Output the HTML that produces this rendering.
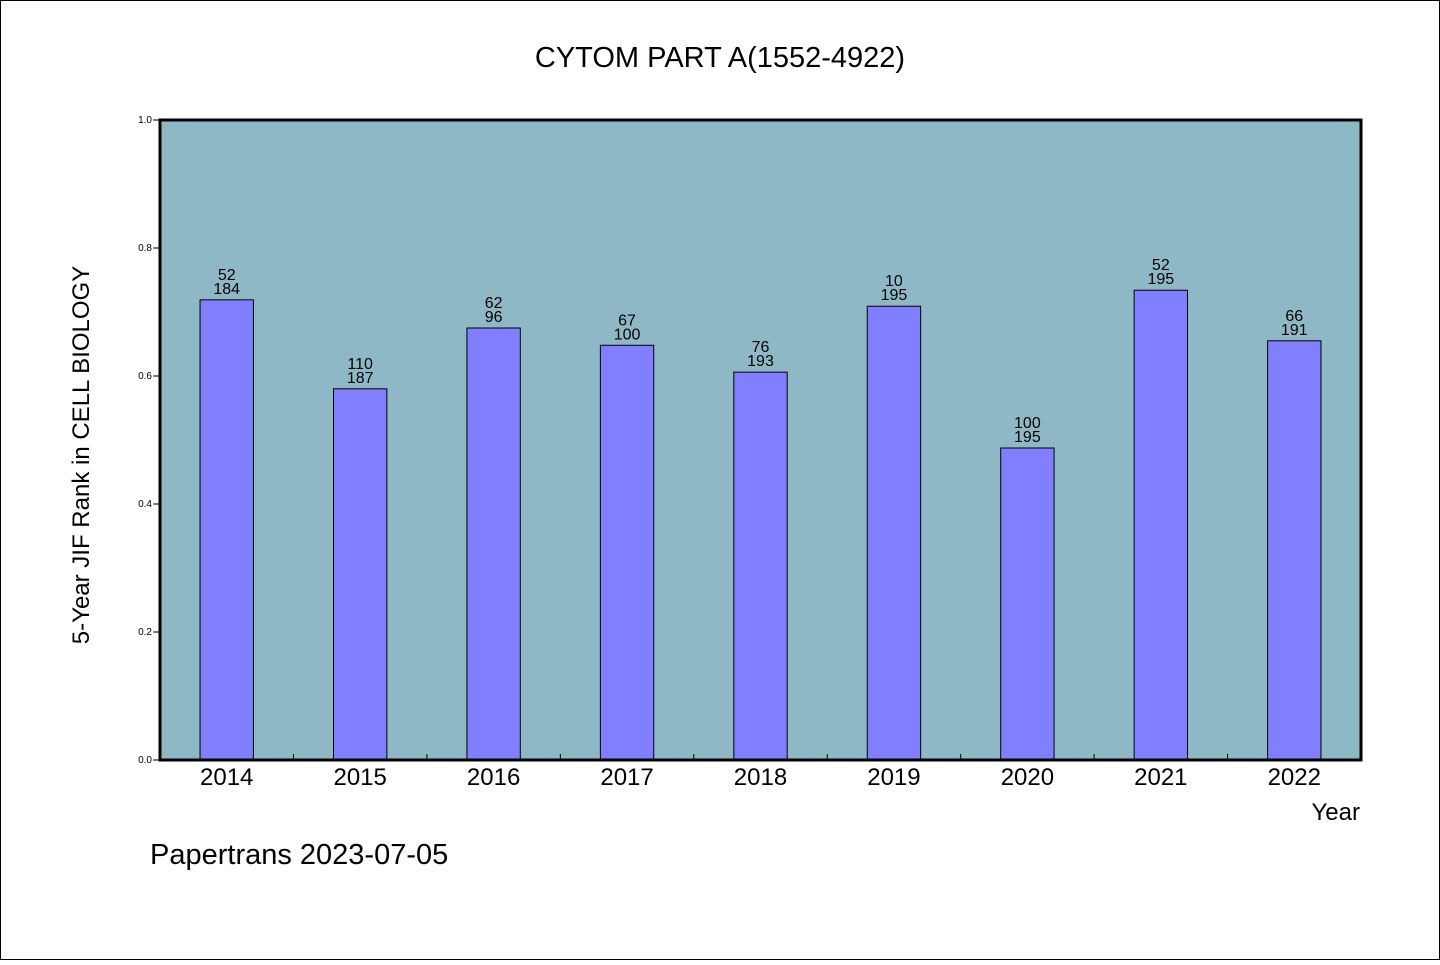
<!DOCTYPE html>
<html><head><meta charset="utf-8"><style>
body{margin:0;background:#fff}
svg text{font-family:"WenQuanYi Zen Hei","Liberation Sans",sans-serif;fill:#000}
</style></head><body>
<svg width="1440" height="960" xmlns="http://www.w3.org/2000/svg">
<rect x="0.5" y="0.5" width="1439" height="959" fill="#fff" stroke="#000"/>
<text x="720" y="67" font-size="29" text-anchor="middle">CYTOM PART A(1552-4922)</text>
<rect x="160" y="120" width="1201" height="640" fill="#8fb8c7"/>
<g id="bars"></g>
<g id="axes"></g>
<rect x="160" y="120" width="1201" height="640" fill="none" stroke="#000" stroke-width="3"/>
<text x="1360" y="820" font-size="24" text-anchor="end">Year</text>
<text transform="translate(89,455) rotate(-90)" font-size="24" text-anchor="middle">5-Year JIF Rank in CELL BIOLOGY</text>
<text x="150" y="864" font-size="29">Papertrans 2023-07-05</text>
</svg>
<script>
const categories=["2014","2015","2016","2017","2018","2019","2020","2021","2022"];
const values=[0.719,0.580,0.675,0.648,0.606,0.709,0.4875,0.734,0.655];
const ranks=["52","110","62","67","76","10","100","52","66"];
const totals=["184","187","96","100","193","195","195","195","191"];
const yTicks=[0,0.2,0.4,0.6,0.8,1.0];
const ns="http://www.w3.org/2000/svg";
const L=160,R=1361,T=120,B=760;
const band=(R-L)/categories.length;
const xC=i=>L+band*(i+0.5);
const y=v=>B-(v/1.0)*(B-T);
const bars=document.getElementById('bars'),axes=document.getElementById('axes');
function mk(tag,attrs,p){const e=document.createElementNS(ns,tag);for(const k in attrs)e.setAttribute(k,attrs[k]);p.appendChild(e);return e;}
categories.forEach((c,i)=>{
  const w=band*0.4,v=values[i];
  const r=mk('rect',{x:xC(i)-w/2,y:y(v),width:w,height:B-y(v),fill:'#7f7fff',stroke:'#000','stroke-width':1},bars);
  
  
  const t1=mk('text',{x:xC(i),y:y(v)-20,'font-size':16,'text-anchor':'middle'},bars);t1.textContent=ranks[i];
  
  
  const t2=mk('text',{x:xC(i),y:y(v)-6,'font-size':16,'text-anchor':'middle'},bars);t2.textContent=totals[i];
  
  
  const xl=mk('text',{x:xC(i),y:785,'font-size':24,'text-anchor':'middle'},axes);xl.textContent=c;
  
  
  if(i>0){const tk=mk('line',{x1:L+band*i,x2:L+band*i,y1:B,y2:B-6,stroke:'#000','stroke-width':1},axes);
  
  }
});
yTicks.forEach(v=>{
  const tk=mk('line',{x1:L-7,x2:L,y1:y(v),y2:y(v),stroke:'#000','stroke-width':1},axes);
  
  
  const tl=mk('text',{x:L-8,y:y(v)+3,'font-size':10,'text-anchor':'end'},axes);tl.textContent=v.toFixed(1);
  
  
});
</script>
</body></html>
